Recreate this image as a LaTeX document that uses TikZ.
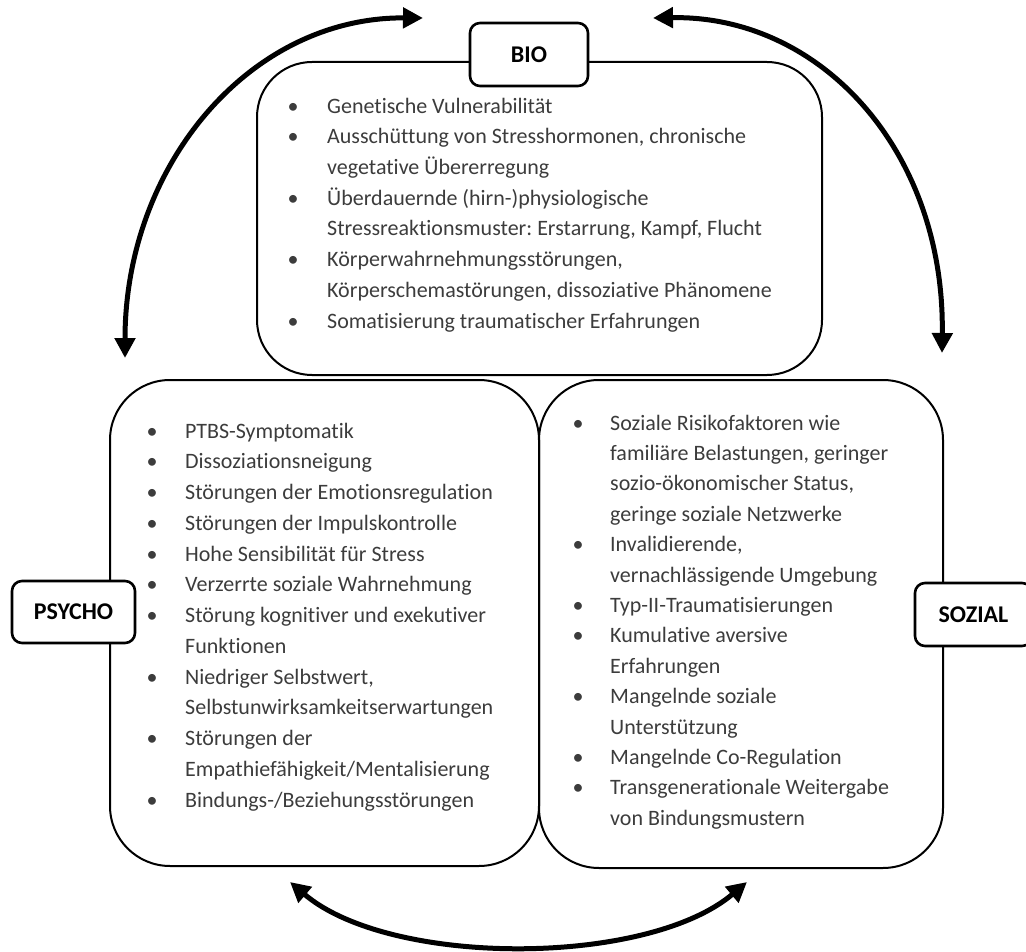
\documentclass[tikz,border=0pt]{standalone}
\usepackage{fontspec}
\setmainfont{Carlito}[Ligatures=NoCommon]
\usetikzlibrary{arrows.meta}
\definecolor{txt}{RGB}{60,60,60}
\newcommand{\bul}[1]{\strut\makebox[0pt][c]{\textbullet}\hspace*{#1}}
\newcommand{\cont}[1]{\strut\hspace*{#1}}
\frenchspacing
\begin{document}
\begin{tikzpicture}[x=1pt,y=-1pt,
  mainbox/.style={draw, line width=2pt, rounded corners=60pt, inner sep=0pt},
  labelbox/.style={draw, line width=2.6pt, rounded corners=10pt, fill=white,
    font=\fontsize{24}{28}\selectfont\bfseries, inner sep=0pt,
    minimum width=118pt, minimum height=63pt},
  listtext/.style={anchor=north west, align=left, inner sep=0pt, text=txt},
  biarrow/.style={line width=5pt, {Triangle[length=20pt,width=20pt]}-{Triangle[length=20pt,width=20pt]}}
]
\useasboundingbox (0,0) rectangle (1026,952);

% main boxes
\node[mainbox, rounded corners=55pt, minimum width=565pt, minimum height=313pt] (bio) at (539.5,218.5) {};
\node[mainbox, minimum width=429pt, minimum height=486pt] (psycho) at (324.5,623) {};
\node[mainbox, minimum width=404pt, minimum height=488pt] (sozial) at (741,624) {};

% labels
\node[labelbox] (biol) at (529,54.5) {BIO};
\node[labelbox, minimum width=123pt, minimum height=62pt] (psychol) at (73.5,612) {PSYCHO};
\node[labelbox, minimum width=117pt] (soziall) at (973.5,614.5) {SOZIAL};

% lists
\node[listtext, font=\fontsize{22}{30.7}\selectfont] (biotext) at (293,91.5) {%
\bul{34pt}Genetische Vulnerabilität\\
\bul{34pt}Ausschüttung von Stresshormonen, chronische\\
\cont{34pt}vegetative Übererregung\\
\bul{34pt}Überdauernde (hirn-)physiologische\\
\cont{34pt}Stressreaktionsmuster: Erstarrung, Kampf, Flucht\\
\bul{34pt}Körperwahrnehmungsstörungen,\\
\cont{34pt}Körperschemastörungen, dissoziative Phänomene\\
\bul{34pt}Somatisierung traumatischer Erfahrungen};

\node[listtext, font=\fontsize{22}{30.75}\selectfont] (psychotext) at (152,416.5) {%
\bul{33pt}PTBS-Symptomatik\\
\bul{33pt}Dissoziationsneigung\\
\bul{33pt}Störungen der Emotionsregulation\\
\bul{33pt}Störungen der Impulskontrolle\\
\bul{33pt}Hohe Sensibilität für Stress\\
\bul{33pt}Verzerrte soziale Wahrnehmung\\
\bul{33pt}Störung kognitiver und exekutiver\\
\cont{33pt}Funktionen\\
\bul{33pt}Niedriger Selbstwert,\\
\cont{33pt}Selbstunwirksamkeitserwartungen\\
\bul{33pt}Störungen der\\
\cont{33pt}Empathiefähigkeit/Mentalisierung\\
\bul{33pt}Bindungs-/Beziehungsstörungen};

\node[listtext, font=\fontsize{22}{30.4}\selectfont] (sozialtext) at (578,408.7) {%
\bul{32pt}Soziale Risikofaktoren wie\\
\cont{32pt}familiäre Belastungen, geringer\\
\cont{32pt}sozio-ökonomischer Status,\\
\cont{32pt}geringe soziale Netzwerke\\
\bul{32pt}Invalidierende,\\
\cont{32pt}vernachlässigende Umgebung\\
\bul{32pt}Typ-II-Traumatisierungen\\
\bul{32pt}Kumulative aversive\\
\cont{32pt}Erfahrungen\\
\bul{32pt}Mangelnde soziale\\
\cont{32pt}Unterstützung\\
\bul{32pt}Mangelnde Co-Regulation\\
\bul{32pt}Transgenerationale Weitergabe\\
\cont{32pt}von Bindungsmustern};

% arrows
\coordinate (a1s) at (125,358);
\coordinate (a1e) at (423,18);
\coordinate (a2s) at (653,18);
\coordinate (a2e) at (942,353);
\coordinate (a3s) at (290,882);
\coordinate (a3e) at (747,882);
\draw[biarrow] (a1s) .. controls (125,165) and (250,17) .. (a1e);
\draw[biarrow] (a2s) .. controls (820,15) and (945,150) .. (a2e);
\draw[biarrow] (a3s) .. controls (390,967) and (646,967) .. (a3e);
\end{tikzpicture}
\end{document}
